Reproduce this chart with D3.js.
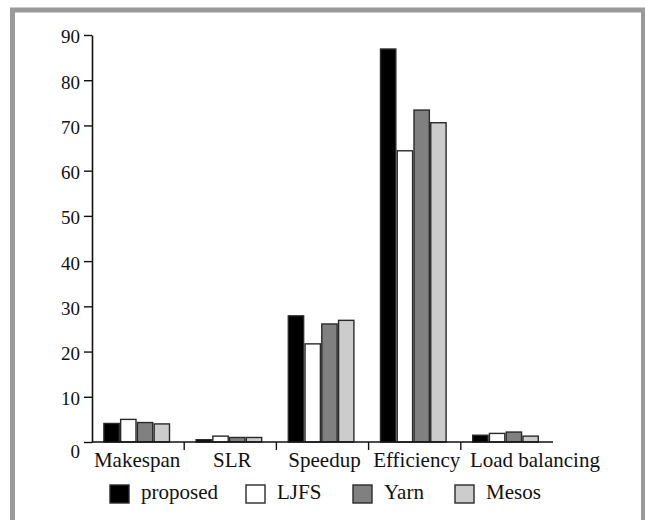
<!DOCTYPE html>
<html>
<head>
<meta charset="utf-8">
<script src="https://cdn.jsdelivr.net/npm/d3@7"></script>
<style>
  html, body { margin: 0; padding: 0; background: #fff; }
  svg { display: block; }
  text { font-family: "Liberation Serif", "Times New Roman", serif; fill: #111; }
</style>
</head>
<body>
<svg id="chart" width="645" height="520"></svg>
<script>
// ---- data ----
const categories = ["Makespan", "SLR", "Speedup", "Efficiency", "Load balancing"];
const seriesNames = ["proposed", "LJFS", "Yarn", "Mesos"];
const proposed = [4.1, 0.5, 27.9, 86.9, 1.5];
const ljfs     = [5.0, 1.3, 21.7, 64.4, 1.9];
const yarn     = [4.3, 1.0, 26.1, 73.4, 2.2];
const mesos    = [4.0, 1.0, 26.9, 70.6, 1.3];
const yTicks   = [0, 10, 20, 30, 40, 50, 60, 70, 80, 90];
const seriesColors = ["#000000", "#ffffff", "#808080", "#cccccc"];

const seriesValues = [proposed, ljfs, yarn, mesos];

const svg = d3.select("#chart");

// frame
svg.append("rect")
  .attr("x", 12.5).attr("y", 10)
  .attr("width", 631).attr("height", 530)
  .attr("fill", "none")
  .attr("stroke", "#9a9a9a")
  .attr("stroke-width", 5);

const mLeft = 92, mRight = 553, mTop = 35, mBottom = 442;

const x0 = d3.scaleBand().domain(categories).range([mLeft, mRight]).padding(0);
const x1 = d3.scaleBand().domain(seriesNames).range([11.2, 78.2]).padding(0);
const y = d3.scaleLinear().domain([0, 90]).range([mBottom, mTop]);
const color = d3.scaleOrdinal().domain(seriesNames).range(seriesColors);

// bars
const rows = [];
categories.forEach((c, i) => {
  seriesNames.forEach((s, j) => rows.push({ cat: c, ser: s, val: seriesValues[j][i] }));
});

svg.append("g").selectAll("rect")
  .data(rows)
  .join("rect")
  .attr("x", d => x0(d.cat) + x1(d.ser) + 0.7)
  .attr("y", d => y(d.val))
  .attr("width", x1.bandwidth() - 1.4)
  .attr("height", d => y(0) - y(d.val))
  .attr("fill", d => color(d.ser))
  .attr("stroke", "#2a2a2a")
  .attr("stroke-width", 1.4);

// y axis
const yAxis = d3.axisLeft(y).tickValues(yTicks).tickSize(8).tickPadding(4).tickSizeOuter(0);
const gy = svg.append("g").attr("transform", `translate(${mLeft},0)`).call(yAxis);
gy.select(".domain").attr("stroke", "#111").attr("stroke-width", 1.6);
gy.selectAll(".tick line").attr("stroke", "#111").attr("stroke-width", 1.4);
gy.selectAll(".tick text")
  .style("font-family", '"Liberation Serif", serif')
  .style("font-size", "19px")
  .attr("fill", "#111")
  .attr("dy", d => d === 0 ? "0.8em" : "0.42em");

// x axis line
svg.append("line")
  .attr("x1", mLeft).attr("x2", mRight)
  .attr("y1", mBottom).attr("y2", mBottom)
  .attr("stroke", "#111").attr("stroke-width", 1.6);

// boundary ticks between categories
svg.append("g").selectAll("line")
  .data(categories.slice(1))
  .join("line")
  .attr("x1", d => x0(d)).attr("x2", d => x0(d))
  .attr("y1", mBottom).attr("y2", mBottom + 8)
  .attr("stroke", "#111").attr("stroke-width", 1.4);

// category labels (last one nudged right, as in the original)
svg.append("g").selectAll("text")
  .data(categories)
  .join("text")
  .attr("x", d => x0(d) + x0.bandwidth() / 2)
  .attr("dx", (d, i) => i === categories.length - 1 ? 28 : (i === 0 ? -1 : 2))
  .attr("y", 467)
  .attr("text-anchor", "middle")
  .style("font-size", "21px")
  .text(d => d);

// legend
const legendX = [110, 246, 353, 455];
const lg = svg.append("g").selectAll("g")
  .data(seriesNames)
  .join("g")
  .attr("transform", (d, i) => `translate(${legendX[i]},485)`);
lg.append("rect")
  .attr("width", 19).attr("height", 18)
  .attr("fill", d => color(d))
  .attr("stroke", "#2a2a2a").attr("stroke-width", 1.4);
lg.append("text")
  .attr("x", 31).attr("y", 14)
  .style("font-size", "21px")
  .text(d => d);
</script>
</body>
</html>
